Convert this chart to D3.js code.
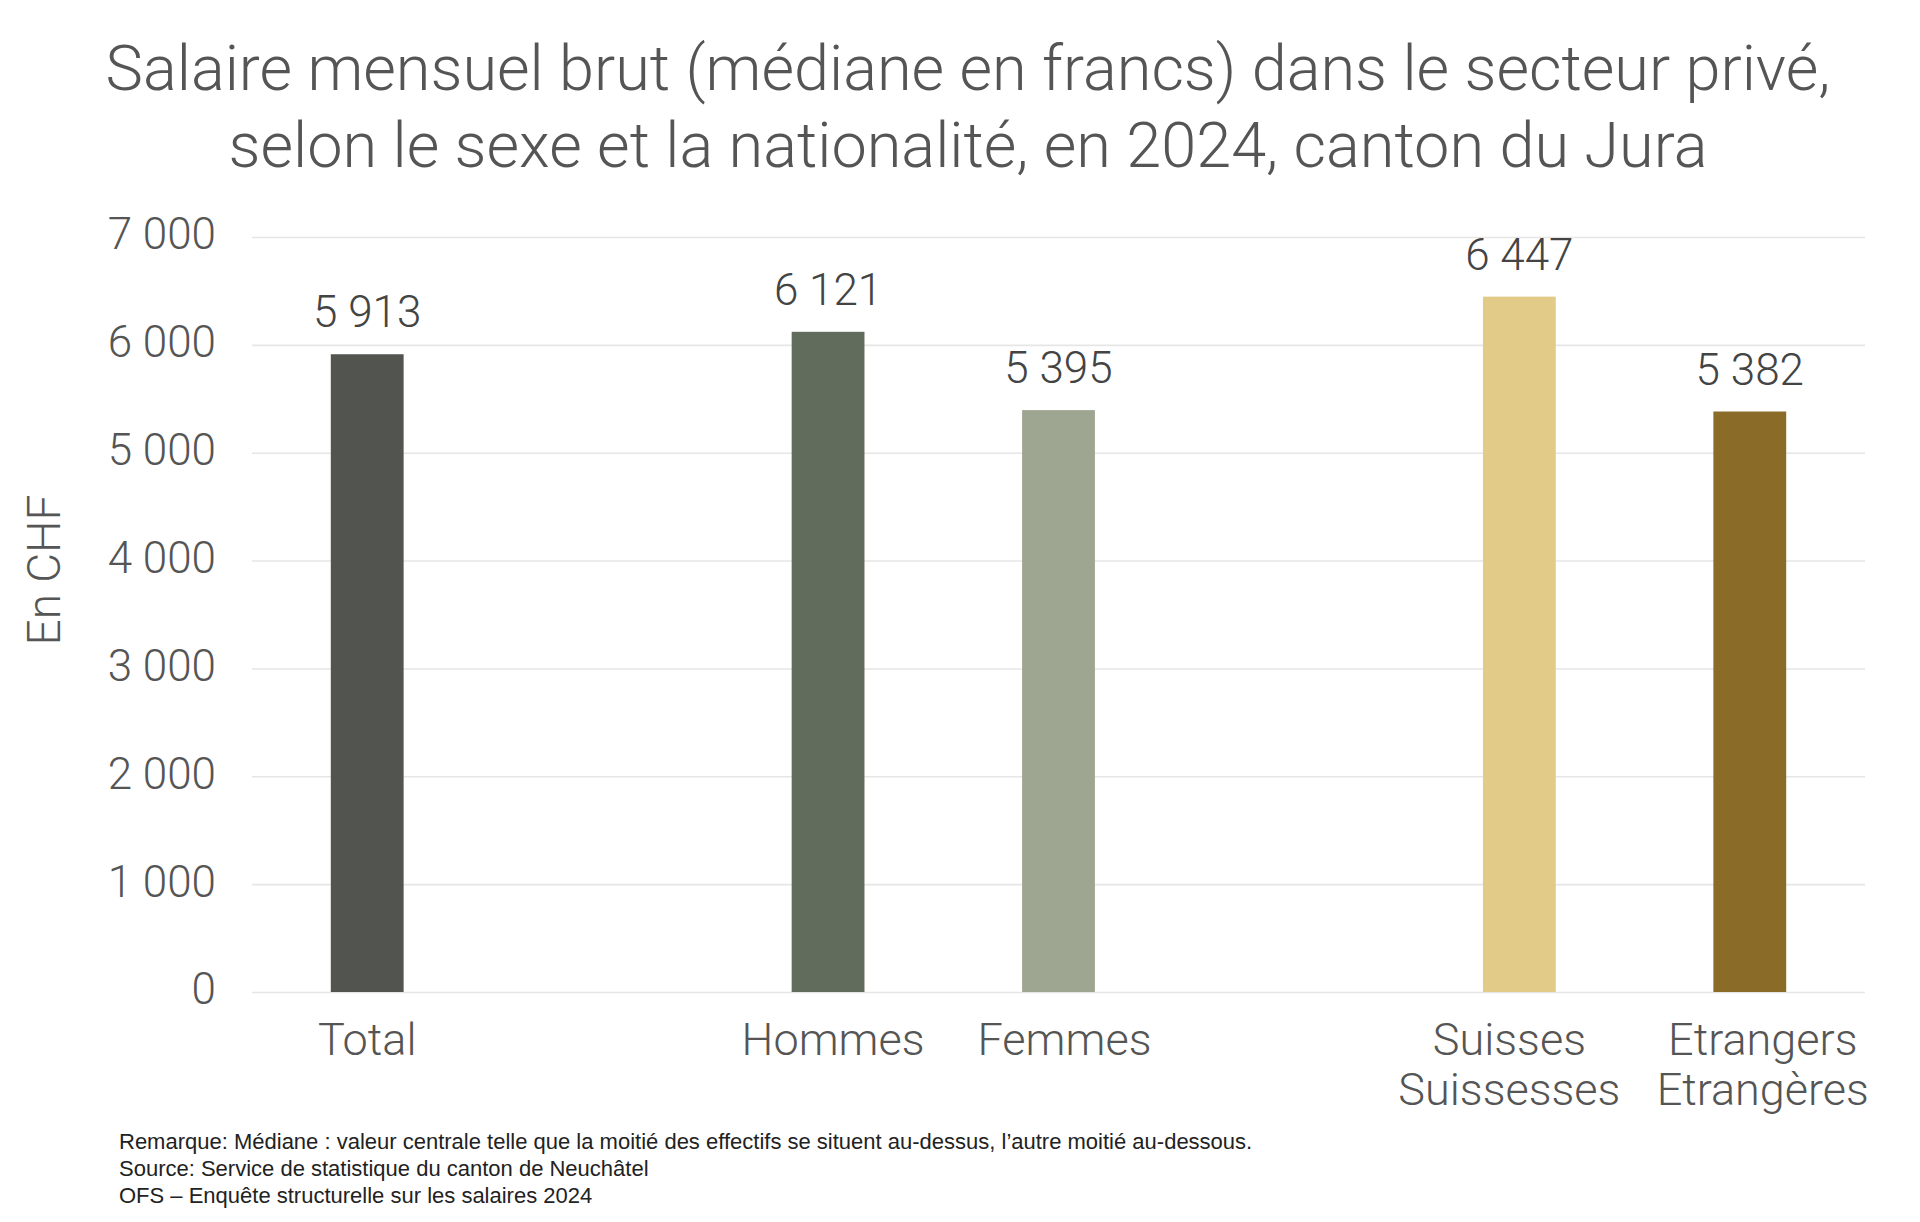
<!DOCTYPE html>
<html>
<head>
<meta charset="utf-8">
<script src="https://cdn.jsdelivr.net/npm/d3@7"></script>
<style>
  html, body { margin: 0; padding: 0; background: #ffffff; }
  svg { display: block; }
  .light { font-family: Roboto, "Liberation Sans", Arial, sans-serif; font-weight: 300; }
  .note { font-family: "Liberation Sans", Arial, sans-serif; font-weight: 400; }
</style>
</head>
<body>
<svg id="chart" width="1920" height="1222"></svg>
<script>
// ---- data ----
const titleLines = [
  "Salaire mensuel brut (médiane en francs) dans le secteur privé,",
  "selon le sexe et la nationalité, en 2024, canton du Jura"
];
const categoryGroups = [
  ["Total"],
  ["Hommes", "Femmes"],
  ["Suisses\nSuissesses", "Etrangers\nEtrangères"]
];
const categories = ["Total", "Hommes", "Femmes", "Suisses\nSuissesses", "Etrangers\nEtrangères"];
const values = [5913, 6121, 5395, 6447, 5382];
const barColors = ["#525450", "#626c5c", "#9ea590", "#e2cb88", "#8a6b27"];
const yTicks = [0, 1000, 2000, 3000, 4000, 5000, 6000, 7000];
const yLabel = "En CHF";
const notes = [
  "Remarque: Médiane : valeur centrale telle que la moitié des effectifs se situent au-dessus, l’autre moitié au-dessous.",
  "Source: Service de statistique du canton de Neuchâtel",
  "OFS – Enquête structurelle sur les salaires 2024"
];

// ---- layout ----
const svg = d3.select("#chart");
const plot = { left: 252, right: 1865, top: 237, bottom: 992 };
const textColor = "#555555";
const labelNudge = [0, 5, 6, -10, 13];

// slots: groups separated by an empty slot
const slots = [];
categoryGroups.forEach((g, i) => {
  if (i > 0) slots.push("__gap" + i);
  g.forEach(c => slots.push(c));
});

const x = d3.scaleBand()
  .domain(slots)
  .range([plot.left, plot.right])
  .paddingInner(0.684)
  .paddingOuter(0.342);

const y = d3.scaleLinear()
  .domain([0, 7000])
  .range([plot.bottom, plot.top]);

const fmt = d3.formatLocale({ decimal: ".", thousands: " ", grouping: [3], currency: ["", ""] }).format(",d");

// title
svg.append("g").selectAll("text")
  .data(titleLines)
  .join("text")
  .attr("class", "light")
  .attr("x", 968)
  .attr("y", (d, i) => 90 + i * 77)
  .attr("text-anchor", "middle")
  .attr("font-size", 63)
  .attr("fill", textColor)
  .text(d => d);

// gridlines + y axis via d3.axisLeft
const yAxis = d3.axisLeft(y)
  .tickValues(yTicks)
  .tickSize(-(plot.right - plot.left))
  .tickPadding(36)
  .tickFormat(fmt);

const gy = svg.append("g")
  .attr("transform", `translate(${plot.left},0)`)
  .call(yAxis);
gy.select(".domain").remove();
gy.selectAll(".tick line")
  .attr("stroke", "#e6e6e6")
  .attr("stroke-width", 1.6);
gy.selectAll(".tick text")
  .attr("class", "light")
  .attr("font-size", 44)
  .attr("fill", textColor)
  .attr("dy", "0.27em");

// y label
svg.append("text")
  .attr("class", "light")
  .attr("transform", `translate(60,570) rotate(-90)`)
  .attr("text-anchor", "middle")
  .attr("font-size", 46)
  .attr("fill", textColor)
  .text(yLabel);

// bars
const data = categories.map((c, i) => ({ c, v: values[i], color: barColors[i], nudge: labelNudge[i] }));
svg.append("g").selectAll("rect")
  .data(data)
  .join("rect")
  .attr("x", d => x(d.c))
  .attr("width", x.bandwidth())
  .attr("y", d => y(d.v))
  .attr("height", d => y(0) - y(d.v))
  .attr("fill", d => d.color);

// value labels
svg.append("g").selectAll("text")
  .data(data)
  .join("text")
  .attr("class", "light")
  .attr("x", d => x(d.c) + x.bandwidth() / 2)
  .attr("y", d => y(d.v) - 27)
  .attr("text-anchor", "middle")
  .attr("font-size", 44)
  .attr("fill", "#444444")
  .text(d => fmt(d.v));

// category labels (via bottom axis)
const xAxis = d3.axisBottom(x).tickSize(0).tickValues(categories).tickFormat("");
const gx = svg.append("g")
  .attr("transform", `translate(0,${plot.bottom})`)
  .call(xAxis);
gx.select(".domain").remove();
gx.selectAll(".tick").each(function (d) {
  const i = categories.indexOf(d);
  const lines = d.split("\n");
  const t = d3.select(this).append("text")
    .attr("class", "light")
    .attr("text-anchor", "middle")
    .attr("font-size", 45)
    .attr("fill", textColor);
  lines.forEach((ln, j) => {
    t.append("tspan").attr("x", labelNudge[i]).attr("y", 63 + j * 50).text(ln);
  });
});

// notes
svg.append("g").selectAll("text")
  .data(notes)
  .join("text")
  .attr("class", "note")
  .attr("x", 119)
  .attr("y", (d, i) => 1149 + i * 27)
  .attr("font-size", 22)
  .attr("fill", "#222222")
  .text(d => d);
</script>
</body>
</html>
